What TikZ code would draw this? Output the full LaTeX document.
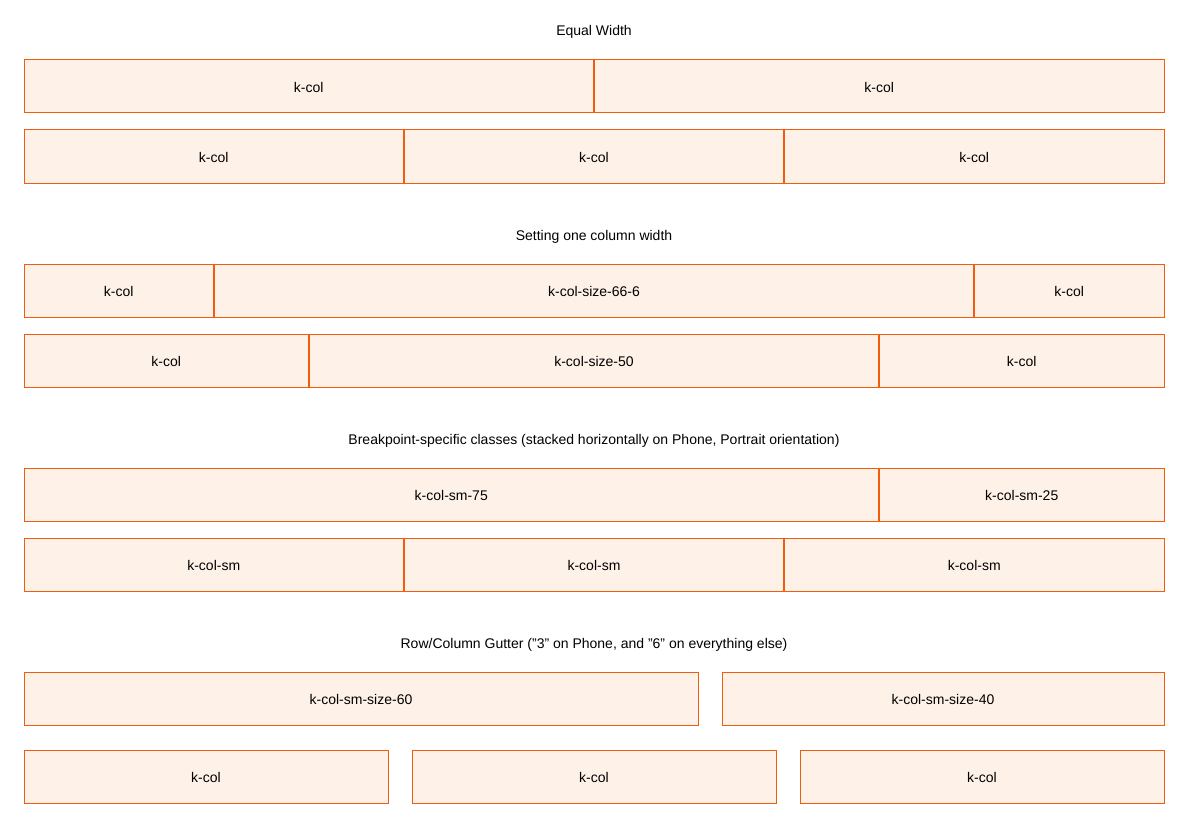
\documentclass[tikz,border=0pt]{standalone}
\usepackage{fontspec}
\setmainfont{Liberation Sans}[Ligatures=NoCommon]
\definecolor{cellline}{HTML}{F25C0F}
\definecolor{cellfill}{HTML}{FEF1E8}
\begin{document}
\begin{tikzpicture}[x=1pt,y=-1pt,
  cell/.style={draw=cellline,fill=cellfill,line width=1pt,rectangle,inner sep=0pt,outer sep=0pt,minimum height=53pt,text height=12pt,text depth=0pt,font=\fontsize{14}{16}\selectfont},
  title/.style={font=\fontsize{14}{16}\selectfont,inner sep=0pt,text height=12pt,text depth=0pt}]
\useasboundingbox (0,0) rectangle (1188,824);
% titles
\node[title] (t1) at (594,30) {Equal Width};
\node[title] (t2) at (594,234) {Setting one column width};
\node[title] (t3) at (594,438) {Breakpoint-specific classes (stacked horizontally on Phone, Portrait orientation)};
\node[title] (t4) at (594,642) {Row/Column Gutter (\symbol{34}3\symbol{34} on Phone, and \symbol{34}6\symbol{34} on everything else)};
% row 1
\node[cell,minimum width=569.5pt] (r1a) at (308.75,86.5) {k-col};
\node[cell,minimum width=569.5pt] (r1b) at (879.25,86.5) {k-col};
% row 2
\node[cell,minimum width=379.5pt] (r2a) at (213.75,156.5) {k-col};
\node[cell,minimum width=379pt] (r2b) at (594,156.5) {k-col};
\node[cell,minimum width=379.5pt] (r2c) at (974.25,156.5) {k-col};
% row 3
\node[cell,minimum width=189.5pt] (r3a) at (118.75,290.5) {k-col};
\node[cell,minimum width=759pt] (r3b) at (594,290.5) {k-col-size-66-6};
\node[cell,minimum width=189.5pt] (r3c) at (1069.25,290.5) {k-col};
% row 4
\node[cell,minimum width=284.5pt] (r4a) at (166.25,360.5) {k-col};
\node[cell,minimum width=569pt] (r4b) at (594,360.5) {k-col-size-50};
\node[cell,minimum width=284.5pt] (r4c) at (1021.75,360.5) {k-col};
% row 5
\node[cell,minimum width=854.5pt] (r5a) at (451.25,494.5) {k-col-sm-75};
\node[cell,minimum width=284.5pt] (r5b) at (1021.75,494.5) {k-col-sm-25};
% row 6
\node[cell,minimum width=379.5pt] (r6a) at (213.75,564.5) {k-col-sm};
\node[cell,minimum width=379pt] (r6b) at (594,564.5) {k-col-sm};
\node[cell,minimum width=379.5pt] (r6c) at (974.25,564.5) {k-col-sm};
% row 7
\node[cell,minimum width=674pt] (r7a) at (361,698.5) {k-col-sm-size-60};
\node[cell,minimum width=442pt] (r7b) at (943,698.5) {k-col-sm-size-40};
% row 8
\node[cell,minimum width=364pt] (r8a) at (206,776.5) {k-col};
\node[cell,minimum width=364pt] (r8b) at (594,776.5) {k-col};
\node[cell,minimum width=364pt] (r8c) at (982,776.5) {k-col};
\end{tikzpicture}
\end{document}
